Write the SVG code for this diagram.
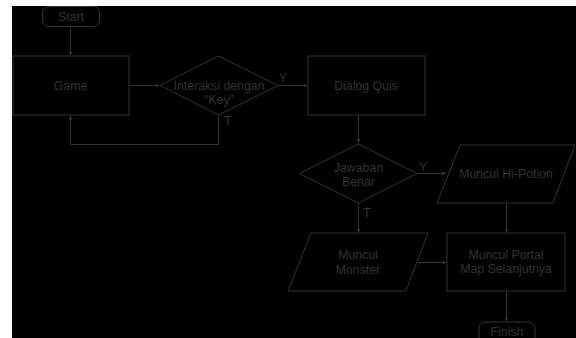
<svg xmlns="http://www.w3.org/2000/svg" width="576" height="338" viewBox="0 0 576 338">
<defs>
<style>
.s{fill:none;stroke:#333;stroke-width:1}
.t{font-family:"Liberation Sans",Arial,sans-serif;font-size:12.3px;fill:#333;text-anchor:middle}
.l{font-family:"Liberation Sans",Arial,sans-serif;font-size:12.5px;fill:#333}
.c{fill:none;stroke:#333;stroke-width:1}
</style>
<marker id="a" viewBox="0 0 6 6" refX="6" refY="3" markerWidth="4" markerHeight="4" orient="auto" markerUnits="userSpaceOnUse">
<path d="M0,0 L6,3 L0,6 z" fill="#333"/>
</marker>
</defs>
<rect x="0" y="0" width="576" height="338" fill="#fff"/>
<rect x="12" y="6" width="564" height="332" fill="#000"/>

<g id="connectors">
<path class="c" d="M70.5,26.5 V55.5" marker-end="url(#a)"/>
<path class="c" d="M129,85.5 H159.5" marker-end="url(#a)"/>
<path class="c" d="M218.5,115 V144.5 H70.5 V115.5" marker-end="url(#a)"/>
<path class="c" d="M278,85.5 H307.5" marker-end="url(#a)"/>
<path class="c" d="M358.5,115 V143" marker-end="url(#a)"/>
<path class="c" d="M417,173.5 H446" marker-end="url(#a)"/>
<path class="c" d="M358.5,203 V232.5" marker-end="url(#a)"/>
<path class="c" d="M506.5,203 V232.5" marker-end="url(#a)"/>
<path class="c" d="M417.5,262.5 H446.5" marker-end="url(#a)"/>
<path class="c" d="M506.5,291 V321.5" marker-end="url(#a)"/>
<text class="l" x="279" y="82">Y</text>
<text class="l" x="224" y="125">T</text>
<text class="l" x="419" y="171">Y</text>
<text class="l" x="363" y="216.5">T</text>
</g>

<g id="start">
<rect class="s" x="42.5" y="6.5" width="57" height="20" rx="6"/>
<text class="t" x="71" y="21">Start</text>
</g>

<g id="game">
<rect class="s" x="13" y="56" width="116" height="59"/>
<text class="t" x="70.5" y="90">Game</text>
</g>

<g id="interaksi">
<polygon class="s" points="218.5,56 278,85.5 218.5,115 160,85.5"/>
<text class="t" x="219" y="90">Interaksi dengan</text>
<text class="t" x="219" y="104">“Key”</text>
</g>

<g id="dialog">
<rect class="s" x="308" y="56" width="117" height="59"/>
<text class="t" x="366" y="90">Dialog Quis</text>
</g>

<g id="jawaban">
<polygon class="s" points="358.5,144 417,173.5 358.5,203 299.5,173.5"/>
<text class="t" x="358.5" y="171.5">Jawaban</text>
<text class="t" x="358.5" y="185.5">Benar</text>
</g>

<g id="hipotion">
<polygon class="s" points="460,145 575,145 553,203 437,203"/>
<text class="t" x="506" y="178">Muncul Hi-Potion</text>
</g>

<g id="monster">
<polygon class="s" points="311,233 428,233 406,291 288,291"/>
<text class="t" x="358" y="259">Muncul</text>
<text class="t" x="358" y="273.5">Monster</text>
</g>

<g id="portal">
<rect class="s" x="447" y="233" width="118" height="58"/>
<text class="t" x="506" y="259">Muncul Portal</text>
<text class="t" x="506" y="273">Map Selanjutnya</text>
</g>

<g id="finish">
<rect class="s" x="479" y="322" width="56" height="22" rx="6"/>
<text class="t" x="507" y="336">Finish</text>
</g>
</svg>
